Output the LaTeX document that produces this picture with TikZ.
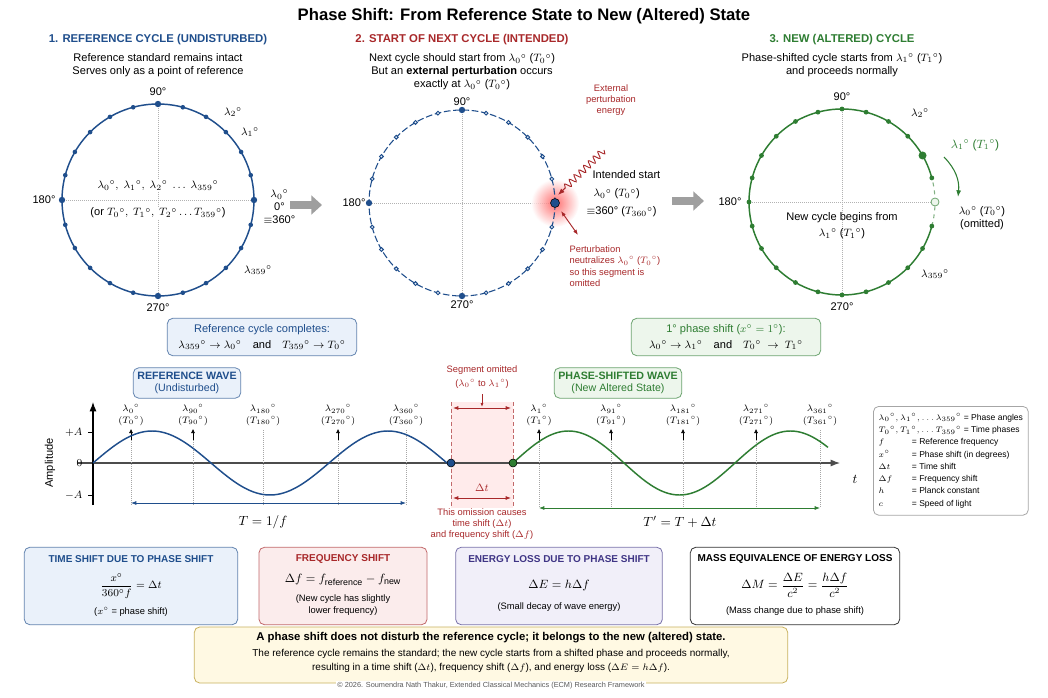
\documentclass[tikz,border=0pt]{standalone}
\usepackage{amsmath}
\usepackage{fontspec}
\setmainfont{Liberation Sans}
\usetikzlibrary{arrows.meta,decorations.pathmorphing,shadings,calc}
\definecolor{cblue}{HTML}{1F4E8C}
\definecolor{cred}{HTML}{A8282A}
\definecolor{cgreen}{HTML}{2E7D32}
\definecolor{cpurp}{HTML}{3F3585}
\definecolor{cgray}{HTML}{333333}
\definecolor{lblue}{HTML}{EAF1FA}
\definecolor{lred}{HTML}{FBECEC}
\definecolor{lgreen}{HTML}{EDF6EC}
\definecolor{lpurp}{HTML}{F1EFF9}
\definecolor{lyel}{HTML}{FFF9E3}
\definecolor{cyel}{HTML}{C9B25E}
\tikzset{
 txt/.style={font=\fontsize{8.3}{9.8}\selectfont, align=center, inner sep=1pt},
 small/.style={font=\fontsize{7}{8.5}\selectfont, align=center, inner sep=1pt},
 head/.style={font=\fontsize{8.5}{10}\selectfont\bfseries, inner sep=1pt},
 box/.style={draw, rounded corners=4pt, line width=0.6pt},
 guide/.style={densely dotted, gray!60, line width=0.5pt},
 bigarr/.style={-{Triangle[length=8pt,width=14pt]}, line width=6pt, gray!75},
 mrk/.style={densely dotted, gray!70, line width=0.5pt},
}
\begin{document}
\begin{tikzpicture}[x=0.75pt,y=-0.75pt]
\useasboundingbox (0,0) rectangle (1048,698);
\fill[white] (0,0) rectangle (1048,698);
\node[font=\fontsize{12.5}{14}\selectfont\bfseries] (title) at (524,16) {Phase Shift: From Reference State to New (Altered) State};

% ---------- circle 1
\node[head, text=cblue] (h1) at (158,40) {1. REFERENCE CYCLE (UNDISTURBED)};
\node[txt] (s1) at (158,65) {Reference standard remains intact\\Serves only as a point of reference};
\coordinate (c1) at (158,200);
\draw[guide] (62,200) -- (254,200) (158,104) -- (158,296);
\draw[cblue, line width=1.1pt] (c1) circle[radius=96];
\foreach \a in {15,30,...,345} \fill[cblue] ($(c1)+(\a:96 and -96)$) circle[radius=2.3];
\foreach \a in {0,90,180,270} \fill[cblue] ($(c1)+(\a:96 and -96)$) circle[radius=3.2];
\node[txt] (c1n) at (158,92) {90°};
\node[txt] (c1w) at (44,200) {180°};
\node[txt] (c1s) at (158,308) {270°};
\node[txt] (c1l2) at (233,112) {$\lambda_2{}^\circ$};
\node[txt] (c1l1) at (250,132) {$\lambda_1{}^\circ$};
\node[txt, anchor=west] (c1l0) at (262,207) {$\lambda_0{}^\circ$\\0°\\$\equiv$360°};
\node[txt] (c1l359) at (258,270) {$\lambda_{359}{}^\circ$};
\node[txt, fill=white] (c1c) at (158,186) {$\lambda_0{}^\circ,\ \lambda_1{}^\circ,\ \lambda_2{}^\circ\ \ldots\ \lambda_{359}{}^\circ$};
\node[txt, fill=white] (c1d) at (158,213) {(or $T_0{}^\circ,\ T_1{}^\circ,\ T_2{}^\circ\ldots T_{359}{}^\circ$)};

\draw[bigarr] (290,205) -- (322,205);
\draw[bigarr] (672,201) -- (704,201);

% ---------- circle 2
\node[head, text=cred] (h2) at (462,40) {2. START OF NEXT CYCLE (INTENDED)};
\node[txt] (s2) at (462,72) {Next cycle should start from $\lambda_0{}^\circ$ ($T_0{}^\circ$)\\But an \textbf{external perturbation} occurs\\exactly at $\lambda_0{}^\circ$ ($T_0{}^\circ$)};
\coordinate (c2) at (462,203);
\draw[guide] (368,203) -- (556,203) (462,110) -- (462,296);
\shade[inner color=red!70, outer color=white, opacity=0.8] (555,203) circle[radius=24];
\draw[cblue, line width=0.8pt, dash pattern=on 5pt off 2pt] (c2) circle[radius=93];
\foreach \a in {15,30,...,345} \draw[cblue, fill=lblue, line width=0.7pt] ($(c2)+(\a:93 and -93)$) circle[radius=1.9];
\foreach \a in {90,180,270} \fill[cblue] ($(c2)+(\a:93 and -93)$) circle[radius=3.2];
\draw[black, fill=cblue] (555,203) circle[radius=4.5];
\node[txt] (c2n) at (462,102) {90°};
\node[txt] (c2w) at (354,203) {180°};
\node[txt] (c2s) at (462,305) {270°};
\node[small, text=cred] (ext) at (611,100) {External\\perturbation\\energy};
\coordinate (wv) at (604,150);
\draw[cred, line width=0.7pt, decorate, decoration={snake, amplitude=2.5pt, segment length=5pt, post length=6pt}, -{Latex[length=5pt]}] (wv) -- (558,195);
\node[txt, anchor=west] (ints) at (591,175) {Intended start};
\node[txt, anchor=west] (int0) at (592,194) {$\lambda_0{}^\circ$ ($T_0{}^\circ$)};
\node[txt, anchor=west] (int360) at (585,212) {$\equiv$360° ($T_{360}{}^\circ$)};
\coordinate (pn) at (578,235);
\draw[cred, line width=0.7pt, {Latex[length=4pt]}-{Latex[length=4pt]}] (561,211) -- (pn);
\node[small, text=cred, align=left, anchor=north west] (pert) at (568,244) {Perturbation\\neutralizes $\lambda_0{}^\circ$ ($T_0{}^\circ$)\\so this segment is\\omitted};

% ---------- circle 3
\node[head, text=cgreen] (h3) at (842,40) {3. NEW (ALTERED) CYCLE};
\node[txt] (s3) at (842,65) {Phase-shifted cycle starts from $\lambda_1{}^\circ$ ($T_1{}^\circ$)\\and proceeds normally};
\coordinate (c3) at (842,202);
\draw[guide] (750,202) -- (936,202) (842,110) -- (842,294);
\draw[cgreen, line width=1.1pt] ($(c3)+(15:93 and -93)$) arc[start angle=15, end angle=345, x radius=93, y radius=-93];
\draw[cgreen!60, dashed, line width=0.8pt] ($(c3)+(-15:93 and -93)$) arc[start angle=-15, end angle=15, x radius=93, y radius=-93];
\foreach \a in {15,45,60,...,345} \fill[cgreen] ($(c3)+(\a:93 and -93)$) circle[radius=2.4];
\fill[cgreen] ($(c3)+(30:93 and -93)$) circle[radius=4];
\draw[cgreen!70, fill=lgreen, line width=0.6pt] ($(c3)+(0:93 and -93)$) circle[radius=4];
\node[txt] (c3n) at (842,97) {90°};
\node[txt] (c3w) at (730,202) {180°};
\node[txt] (c3s) at (842,307) {270°};
\node[txt] (c3l2) at (920,113) {$\lambda_2{}^\circ$};
\node[txt, text=cgreen, font=\fontsize{9}{10}\selectfont] (c3l1) at (975,145) {$\lambda_1{}^\circ$ ($T_1{}^\circ$)};
\coordinate (ca) at (944,157);
\coordinate (cb) at (958,197);
\draw[cgreen, line width=0.8pt, -{Latex[length=5pt]}] (ca) to[bend left=25] (cb);
\node[txt, align=center] (c3l0) at (982,218) {$\lambda_0{}^\circ$ ($T_0{}^\circ$)\\(omitted)};
\node[txt] (c3l359) at (935,274) {$\lambda_{359}{}^\circ$};
\node[txt] (c3c) at (842,226) {New cycle begins from\\[2pt]$\lambda_1{}^\circ$ ($T_1{}^\circ$)};

% ---------- boxes under circles
\node[box, draw=cblue!70, fill=lblue, txt, minimum width=142pt, minimum height=28pt] (rc) at (262,337) {\textcolor{cblue}{Reference cycle completes:}\\[2pt]$\lambda_{359}{}^\circ\to\lambda_0{}^\circ$\quad and\quad $T_{359}{}^\circ\to T_0{}^\circ$};
\node[box, draw=cgreen!70, fill=lgreen, txt, minimum width=142pt, minimum height=28pt] (ps) at (726,337) {\textcolor{cgreen}{1° phase shift ($x^\circ=1^\circ$):}\\[2pt]$\lambda_0{}^\circ\to\lambda_1{}^\circ$\quad and\quad $T_0{}^\circ\ \to\ T_1{}^\circ$};

% ---------- wave region
\fill[red!8] (451,402) rectangle (513,508);
\draw[cred!70, densely dashed, line width=0.5pt] (451,402) -- (451,508) (513,402) -- (513,508);
\draw[gray!60!black, line width=0.8pt, -{Latex[length=7pt]}] (78,463) -- (840,463);
\draw[black, line width=0.8pt, -{Latex[length=7pt]}] (93,505) -- (93,402);
\draw (88,432) -- (93,432) (88,495) -- (93,495);
\node[txt, anchor=east] (pa) at (84,432) {$+A$};
\node[txt, anchor=east] (za) at (84,463) {$0$};
\node[txt, anchor=east] (ma) at (84,495) {$-A$};
\node[txt, rotate=90] (amp) at (50,463) {Amplitude};
\node[font=\fontsize{10}{12}\selectfont] (tl) at (855,479) {$t$};

\node[box, draw=cblue!70, fill=lblue, text=cblue, align=center, font=\fontsize{8}{9.5}\selectfont\bfseries, inner sep=3pt] (rw) at (187,383) {REFERENCE WAVE\\\mdseries(Undisturbed)};
\node[box, draw=cgreen!70, fill=lgreen, text=cgreen, align=center, font=\fontsize{8}{9.5}\selectfont\bfseries, inner sep=3pt] (pw) at (618,383) {PHASE-SHIFTED WAVE\\\mdseries(New Altered State)};

% blue markers
\foreach \x/\l in {131/0,193/{90},263/{180},338/{270},406/{360}} {
 \draw[mrk] (\x,430) -- (\x,505);
 \node[small] at (\x,415) {$\lambda_{\l}{}^\circ$\\$(T_{\l}{}^\circ)$};
}
\foreach \x in {131,193,338} \draw[-{Latex[length=3pt,width=3pt]}, line width=0.4pt] (\x,440) -- (\x,429);
\draw[cblue, line width=1.1pt] plot[domain=93:447, samples=120] (\x, {463-32*sin((\x-93)/118*180)});
\draw[cblue, line width=0.6pt, {Latex[length=4pt]}-{Latex[length=4pt]}] (131,503) -- (406,503);
\node[font=\fontsize{10}{12}\selectfont] (T) at (263,522) {$T=1/f$};

% green markers
\foreach \x/\l in {539/1,611/{91},683/{181},756/{271},820/{361}} {
 \draw[mrk] (\x,430) -- (\x,508);
 \node[small] at (\x,415) {$\lambda_{\l}{}^\circ$\\$(T_{\l}{}^\circ)$};
}
\foreach \x in {539,611,683,756} \draw[-{Latex[length=3pt,width=3pt]}, line width=0.4pt] (\x,440) -- (\x,429);
\draw[cgreen, line width=1.1pt] plot[domain=513:828, samples=120] (\x, {463-32*sin((\x-513)/111*180)});
\draw[cgreen, line width=0.6pt, {Latex[length=4pt]}-{Latex[length=4pt]}] (539,508) -- (820,508);
\node[font=\fontsize{10}{12}\selectfont] (Tp) at (680,522) {$T'=T+\Delta t$};

\draw[black, fill=cblue] (451,463) circle[radius=4];
\draw[black, fill=cgreen] (513,463) circle[radius=4];

% omitted segment
\node[small, text=cred, font=\fontsize{7}{10}\selectfont] (so) at (482,377) {Segment omitted\\($\lambda_0{}^\circ$ to $\lambda_1{}^\circ$)};
\draw[cred, line width=0.7pt, {Latex[length=4pt]}-{Latex[length=4pt]}] (453,408) -- (511,408);
\draw[cred, line width=0.6pt, -{Latex[length=3pt]}] (482,394) -- (482,407);
\node[txt, text=cred] (dt) at (482,488) {$\Delta t$};
\draw[cred, line width=0.7pt, {Latex[length=4pt]}-{Latex[length=4pt]}] (453,498) -- (511,498);
\node[small, text=cred] (om) at (482,524) {This omission causes\\time shift ($\Delta t$)\\and frequency shift ($\Delta f$)};

% legend
\node[box, draw=gray!70, fill=white, inner sep=4pt, anchor=north west, font=\fontsize{6.4}{9.2}\selectfont] (leg) at (873,406) {%
\begin{tabular}{@{}l@{\ }l@{}}
\multicolumn{2}{@{}l@{}}{$\lambda_0{}^\circ,\lambda_1{}^\circ,\ldots\lambda_{359}{}^\circ$ = Phase angles}\\
\multicolumn{2}{@{}l@{}}{$T_0{}^\circ,T_1{}^\circ,\ldots T_{359}{}^\circ$ = Time phases}\\
$f$ & \quad\quad = Reference frequency\\
$x^\circ$ & \quad\quad = Phase shift (in degrees)\\
$\Delta t$ & \quad\quad = Time shift\\
$\Delta f$ & \quad\quad = Frequency shift\\
$h$ & \quad\quad = Planck constant\\
$c$ & \quad\quad = Speed of light
\end{tabular}};

% ---------- formula boxes
\node[box, draw=cblue!70, fill=lblue, minimum width=160pt, minimum height=58pt] (b1) at (131,586) {};
\node[text=cblue, font=\fontsize{7.5}{9}\selectfont\bfseries] (b1h) at (131,559) {TIME SHIFT DUE TO PHASE SHIFT};
\node[txt] (b1f) at (131,586) {$\dfrac{x^\circ}{360^\circ f}=\Delta t$};
\node[small] (b1n) at (131,612) {($x^\circ$ = phase shift)};

\node[box, draw=cred!70, fill=lred, minimum width=126pt, minimum height=58pt] (b2) at (343,586) {};
\node[text=cred, font=\fontsize{7.5}{9}\selectfont\bfseries] (b2h) at (343,559) {FREQUENCY SHIFT};
\node[txt, font=\fontsize{9.5}{11}\selectfont] (b2f) at (343,580) {$\Delta f=f_{\mathrm{reference}}-f_{\mathrm{new}}$};
\node[small] (b2n) at (343,605) {(New cycle has slightly\\lower frequency)};

\node[box, draw=cpurp!70, fill=lpurp, minimum width=155pt, minimum height=58pt] (b3) at (559,586) {};
\node[text=cpurp, font=\fontsize{7.5}{9}\selectfont\bfseries] (b3h) at (559,559) {ENERGY LOSS DUE TO PHASE SHIFT};
\node[txt, font=\fontsize{9.5}{11}\selectfont] (b3f) at (559,585) {$\Delta E=h\Delta f$};
\node[small] (b3n) at (559,607) {(Small decay of wave energy)};

\node[box, draw=cgray, fill=white, minimum width=157pt, minimum height=58pt] (b4) at (795,586) {};
\node[text=black, font=\fontsize{7.5}{9}\selectfont\bfseries] (b4h) at (795,559) {MASS EQUIVALENCE OF ENERGY LOSS};
\node[txt, font=\fontsize{9}{11}\selectfont] (b4f) at (795,585) {$\Delta M=\dfrac{\Delta E}{c^2}=\dfrac{h\Delta f}{c^2}$};
\node[small] (b4n) at (795,611) {(Mass change due to phase shift)};

\node[box, draw=cyel, fill=lyel, minimum width=445pt, minimum height=42pt] (b5) at (491,655) {};
\node[font=\fontsize{8.5}{10}\selectfont\bfseries] (b5h) at (491,638) {A phase shift does not disturb the reference cycle; it belongs to the new (altered) state.};
\node[align=center, font=\fontsize{7.5}{10}\selectfont] (b5t) at (491,661) {The reference cycle remains the standard; the new cycle starts from a shifted phase and proceeds normally,\\resulting in a time shift ($\Delta t$), frequency shift ($\Delta f$), and energy loss ($\Delta E=h\Delta f$).};
\node[font=\fontsize{5.5}{6}\selectfont, text=gray!70!black, fill=white, inner sep=1pt] (cp) at (491,686) {© 2026. Soumendra Nath Thakur, Extended Classical Mechanics (ECM) Research Framework};
\end{tikzpicture}
\end{document}
